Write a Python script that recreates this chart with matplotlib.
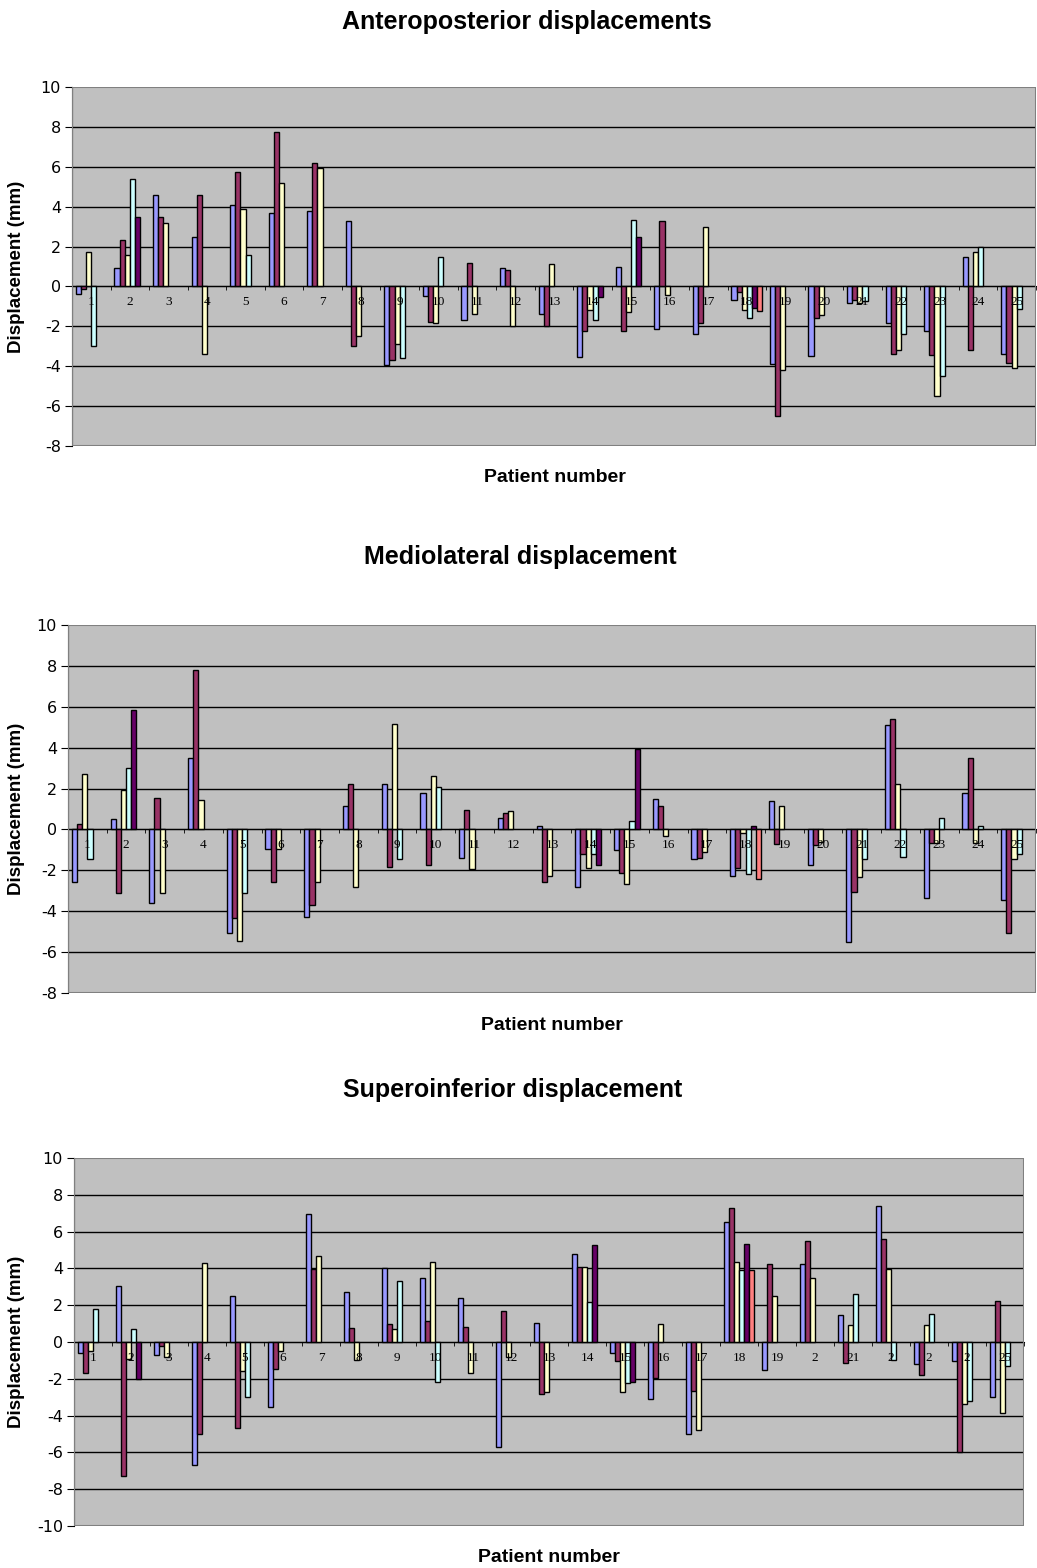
import numpy as np
import matplotlib.pyplot as plt
from matplotlib.patches import Rectangle

plt.rcParams['axes.unicode_minus'] = False
nan = np.nan

# Datos (6 series por paciente, NaN = sin barra)
pacientes = np.arange(1, 26)
etiquetas_ap = [str(i) for i in pacientes]
etiquetas_ml = [str(i) for i in pacientes]
etiquetas_si = [str(i) for i in range(1, 20)] + ['2', '21', '2', '2', '2', '25']

ap_azul = [-0.4, 0.9, 4.6, 2.5, 4.1, 3.7, 3.8, 3.3, -3.95, -0.5, -1.7, 0.9, -1.4,
           -3.55, 0.95, -2.15, -2.4, -0.7, -3.9, -3.5, -0.85, -1.85, -2.25, 1.5, -3.4]
ap_granate = [-0.15, 2.35, 3.5, 4.6, 5.75, 7.75, 6.2, -3.0, -3.7, -1.8, 1.2, 0.8, -2.0,
              -2.25, -2.25, 3.3, -1.85, -0.3, -6.5, -1.6, -0.7, -3.4, -3.45, -3.2, -3.85]
ap_amarillo = [1.75, 1.6, 3.2, -3.4, 3.9, 5.2, 5.95, -2.5, -2.9, -1.85, -1.4, -2.0, 1.15,
               -1.2, -1.3, -0.45, 3.0, -1.2, -4.2, -1.45, -0.85, -3.2, -5.5, 1.75, -4.1]
ap_cian = [-3.0, 5.4, nan, nan, 1.6, nan, nan, nan, -3.6, 1.5, nan, nan, nan,
           -1.7, 3.35, nan, nan, -1.6, nan, nan, -0.75, -2.4, -4.5, 2.0, -1.15]
ap_morado = [nan, 3.5, nan, nan, nan, nan, nan, nan, nan, nan, nan, nan, nan,
             -0.55, 2.5, nan, nan, -1.1, nan, nan, nan, nan, nan, nan, nan]
ap_salmon = [nan] * 17 + [-1.25] + [nan] * 7

ml_azul = [-2.55, 0.5, -3.6, 3.5, -5.05, -0.95, -4.3, 1.15, 2.2, 1.8, -1.4, 0.55, 0.15,
           -2.8, -1.0, 1.5, -1.45, -2.3, 1.4, -1.75, -5.5, 5.1, -3.35, 1.8, -3.45]
ml_granate = [0.25, -3.1, 1.55, 7.8, -4.35, -2.55, -3.7, 2.2, -1.85, -1.75, 0.95, 0.8, -2.55,
              -1.2, -2.15, 1.15, -1.4, -1.9, -0.7, -0.75, -3.05, 5.4, -0.65, 3.5, -5.05]
ml_amarillo = [2.7, 1.95, -3.1, 1.45, -5.45, -0.95, -2.55, -2.8, 5.15, 2.6, -1.95, 0.9, -2.3,
               -1.9, -2.65, -0.3, -1.1, -0.15, 1.15, -0.6, -2.35, 2.2, -0.65, -0.65, -1.45]
ml_cian = [-1.45, 3.0, nan, nan, -3.1, nan, nan, nan, -1.45, 2.1, nan, nan, nan,
           -1.2, 0.4, nan, nan, -2.2, nan, nan, -1.45, -1.35, 0.55, 0.15, -1.2]
ml_morado = [nan, 5.85, nan, nan, nan, nan, nan, nan, nan, nan, nan, nan, nan,
             -1.75, 3.95, nan, nan, 0.15, nan, nan, nan, nan, nan, nan, nan]
ml_salmon = [nan] * 17 + [-2.4] + [nan] * 7

si_azul = [-0.6, 3.05, -0.7, -6.7, 2.5, -3.55, 6.95, 2.7, 4.0, 3.5, 2.4, -5.7, 1.05,
           4.8, -0.6, -3.1, -5.0, 6.5, -1.5, 4.25, 1.45, 7.4, -1.2, -1.05, -3.0]
si_granate = [-1.7, -7.3, -0.2, -5.0, -4.7, -1.45, 3.95, 0.75, 1.0, 1.15, 0.8, 1.7, -2.8,
              4.1, -1.05, -1.95, -2.65, 7.3, 4.25, 5.5, -1.15, 5.6, -1.8, -6.0, 2.25]
si_amarillo = [-0.5, -0.9, -0.8, 4.3, -1.6, -0.5, 4.7, -1.0, 0.7, 4.35, -1.7, -0.8, -2.7,
               4.1, -2.7, 1.0, -4.8, 4.35, 2.5, 3.5, 0.9, 3.95, 0.9, -3.35, -3.85]
si_cian = [1.8, 0.7, nan, nan, -3.0, nan, nan, nan, 3.3, -2.15, nan, nan, nan,
           2.2, -2.25, nan, nan, 3.9, nan, nan, 2.6, -1.0, 1.5, -3.2, -1.3]
si_morado = [nan, -2.0, nan, nan, nan, nan, nan, nan, nan, nan, nan, nan, nan,
             5.25, -2.15, nan, nan, 5.35, nan, nan, nan, nan, nan, nan, nan]
si_salmon = [nan] * 17 + [3.9] + [nan] * 7

colores = ['#9999FF', '#993366', '#FFFFCC', '#CCFFFF', '#660066', '#FF8080']

W, H = 1037, 1568
fig = plt.figure(figsize=(W / 100, H / 100), dpi=100)
fig.patch.set_facecolor('white')


def px_axes(left, top, right, bottom):
    return fig.add_axes([left / W, 1 - bottom / H, (right - left) / W, (bottom - top) / H])


def grafico(caja, series, etiquetas, ylim, titulo, tit_xy, xl_xy):
    ax = px_axes(*caja)
    ax.set_facecolor('#C0C0C0')
    ax.set_axisbelow(False)  # etiquetas de categoría por encima de las barras
    yt = np.arange(ylim[0], ylim[1] + 1, 2)
    # líneas de cuadrícula por debajo de las barras
    for y in yt[1:-1]:
        ax.axhline(y, color='black', linewidth=1.0, zorder=0.5)
    ancho = 1 / 7.5
    for k, (vals, c) in enumerate(zip(series, colores)):
        vals = np.array(vals, dtype=float)
        ok = ~np.isnan(vals)
        ax.bar(pacientes[ok] + (k - 2.5) * ancho, vals[ok], width=ancho, color=c,
               edgecolor='black', linewidth=1.0, zorder=2)
    ax.set_xlim(0.5, 25.5)
    ax.set_ylim(*ylim)
    ax.set_yticks(yt)
    ax.tick_params(axis='y', direction='out', length=5, labelsize=11.5, pad=3)
    for s in ['top', 'right']:
        ax.spines[s].set_visible(False)
    ax.spines['left'].set_color('black')
    ax.spines['bottom'].set_position(('data', 0))
    ax.spines['bottom'].set_color('black')
    ax.set_xticks(pacientes)
    ax.set_xticklabels(etiquetas, family='Liberation Serif', fontsize=9.5)
    ax.set_xticks(np.arange(0.5, 26, 1), minor=True)
    ax.tick_params(axis='x', which='major', length=0, pad=7)
    ax.tick_params(axis='x', which='minor', length=3, direction='out')
    ax.add_patch(Rectangle((0, 0), 1, 1, transform=ax.transAxes, fill=False,
                           edgecolor='#808080', linewidth=1.5, zorder=4))
    fig.text(tit_xy[0] / W, 1 - tit_xy[1] / H, titulo, ha='center', va='center',
             fontsize=18, fontweight='bold', family='Liberation Sans')
    fig.text(xl_xy[0] / W, 1 - xl_xy[1] / H, 'Patient number', ha='center', va='center',
             fontsize=14, fontweight='bold', family='Liberation Sans')
    fig.text(17 / W, 1 - (caja[1] + caja[3]) / 2 / H, 'Displacement (mm)', ha='center',
             va='center', rotation=90, fontsize=13.5, fontweight='bold', family='Liberation Sans')
    return ax


grafico((72, 87, 1036, 446),
        [ap_azul, ap_granate, ap_amarillo, ap_cian, ap_morado, ap_salmon],
        etiquetas_ap, (-8, 10), 'Anteroposterior displacements', (527, 22), (555, 478))
grafico((68, 625, 1036, 993),
        [ml_azul, ml_granate, ml_amarillo, ml_cian, ml_morado, ml_salmon],
        etiquetas_ml, (-8, 10), 'Mediolateral displacement', (520, 557), (552, 1025))
grafico((74, 1158, 1024, 1526),
        [si_azul, si_granate, si_amarillo, si_cian, si_morado, si_salmon],
        etiquetas_si, (-10, 10), 'Superoinferior displacement', (513, 1090), (549, 1557))

fig.savefig('out.png', dpi=100)
